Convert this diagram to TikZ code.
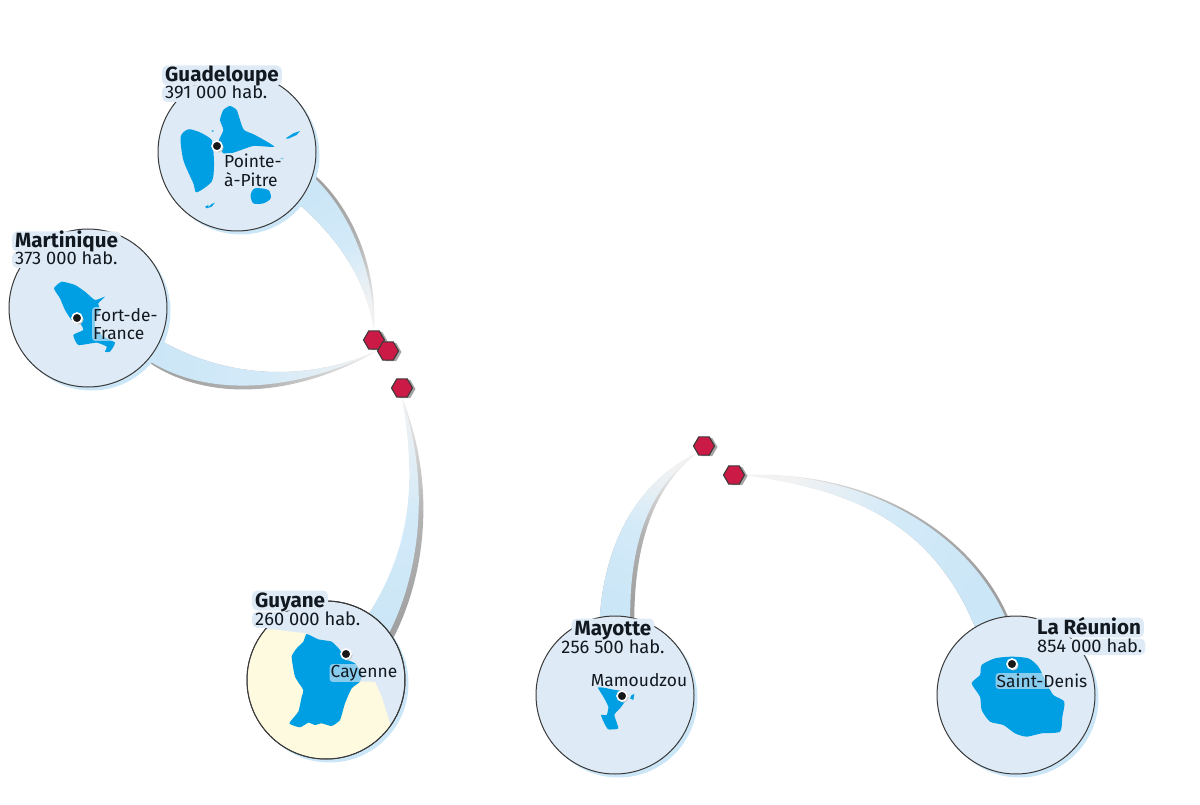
\documentclass[tikz,border=0pt]{standalone}
\usepackage{fontspec}
\setmainfont{Fira Sans}
\usepackage{tikz}
\usetikzlibrary{positioning,shapes.geometric,shadows,backgrounds}
\definecolor{IslandBlue}{HTML}{009FE3}
\definecolor{SeaBlue}{HTML}{DEEAF5}
\definecolor{GlowBlue}{HTML}{CBE6F7}
\definecolor{LandCream}{HTML}{FEFADF}
\definecolor{PinRed}{HTML}{CB1A45}
\definecolor{InkDark}{HTML}{111820}
\definecolor{RingGrey}{HTML}{3A3A3A}
\tikzset{
  insetdisc/.style={circle, minimum size=158pt, inner sep=0pt, fill=SeaBlue, draw=RingGrey,
                    line width=1pt,
                    copy shadow={shadow xshift=3.5pt, shadow yshift=-3.5pt, draw=none, fill=GlowBlue}},
  pin/.style={regular polygon, regular polygon sides=6, minimum size=21pt, inner sep=0pt,
              fill=PinRed, draw=RingGrey, line width=1.1pt,
              copy shadow={shadow xshift=3pt, shadow yshift=-1pt, draw=none, fill=gray!70}},
  town/.style={circle, minimum size=10pt, inner sep=0pt, fill=black!90, draw=white, line width=1.6pt,
               copy shadow={shadow xshift=1.5pt, shadow yshift=-1.5pt, draw=none, fill=gray!45}},
  nametext/.style={inner xsep=3pt, inner ysep=0pt, text height=16.5pt, text depth=3.5pt, text=InkDark,
                   fill=SeaBlue, rounded corners=5pt,
                   font=\fontsize{20.6}{22}\selectfont\bfseries},
  poptext/.style={inner xsep=3pt, inner ysep=0pt, text height=13.5pt, text depth=3pt, text=InkDark,
                  fill=SeaBlue, rounded corners=5pt,
                  font=\fontsize{18.3}{20}\selectfont},
  towntext/.style={inner xsep=1pt, inner ysep=1pt, align=left, text=InkDark, rounded corners=3pt,
                   fill=SeaBlue, fill opacity=0.62, text opacity=1,
                   font=\fontsize{17.4}{18.5}\selectfont},
  island/.style={fill=IslandBlue},
  blueflow/.style={left color=black!5, right color=GlowBlue, middle color=GlowBlue!85},
  greyflow/.style={left color=black!8, right color=gray!75, middle color=gray!60},
}
\begin{document}
\begin{tikzpicture}[x=1pt, y=-1pt]
\useasboundingbox (0,0) rectangle (1200,805);
% discs
\node[insetdisc] (gua) at (237,152) {};
\node[insetdisc] (mar) at (88,308) {};
\node[insetdisc] (guy) at (326,680) {};
\node[insetdisc] (may) at (615,695) {};
\node[insetdisc] (reu) at (1016,695) {};
% pins
\node[pin] (pinGua) at (374,340) {};
\node[pin] (pinMar) at (388,351) {};
\node[pin] (pinGuy) at (402,388) {};
\node[pin] (pinMay) at (704,446) {};
\node[pin] (pinReu) at (734,475) {};
% flows
\begin{scope}[on background layer]
\shade[greyflow, shading angle=-150]
  (gua.-16) .. controls (350,205) and (378,265) .. (pinGua.north)
  .. controls (366,280) and (340,240) .. (gua.-40) -- cycle;
\shade[blueflow, shading angle=-150]
  (gua.-18) .. controls (345,205) and (374,265) .. (pinGua.north)
  .. controls (366,280) and (340,240) .. (gua.-40) -- cycle;
\shade[greyflow, shading angle=-90]
  (mar.-24) .. controls (220,375) and (300,385) .. (pinMar.west)
  .. controls (300,395) and (210,405) .. (mar.-42.5) -- cycle;
\shade[blueflow, shading angle=-90]
  (mar.-24) .. controls (220,375) and (300,385) .. (pinMar.west)
  .. controls (300,390) and (210,400) .. (mar.-41) -- cycle;
\shade[greyflow, shading angle=0]
  (guy.32) .. controls (428,570) and (435,480) .. (pinGuy.south)
  .. controls (420,490) and (410,550) .. (guy.57) -- cycle;
\shade[blueflow, shading angle=0]
  (guy.37) .. controls (421,570) and (430,480) .. (pinGuy.south)
  .. controls (418,490) and (408,550) .. (guy.57) -- cycle;
\shade[greyflow, shading angle=-25]
  (may.76) .. controls (635,550) and (650,490) .. (pinMay.south west)
  .. controls (640,480) and (605,540) .. (may.101) -- cycle;
\shade[blueflow, shading angle=-25]
  (may.79) .. controls (630,550) and (645,490) .. (pinMay.south west)
  .. controls (640,480) and (605,540) .. (may.101) -- cycle;
\shade[greyflow, shading angle=60]
  (reu.96) .. controls (975,540) and (880,470) .. (pinReu.east)
  .. controls (850,490) and (930,520) .. (reu.121) -- cycle;
\shade[blueflow, shading angle=60]
  (reu.98) .. controls (972,542) and (880,472) .. (pinReu.east)
  .. controls (850,490) and (930,520) .. (reu.121) -- cycle;
\end{scope}
% Guyane land
\begin{scope}
\clip (guy.center) circle (78.5pt);
\begin{scope}[shift={(240,580)}, scale=1/3]
\fill[LandCream] (0,150) -- (100,148) -- (195,160) -- (340,300) -- (405,305) -- (425,350)
  -- (450,430) -- (470,560) -- (0,560) -- cycle;
\end{scope}
\end{scope}
\draw[RingGrey, line width=1pt] (guy.center) circle (79pt);
% islands
\begin{scope}[shift={(140,50)}, scale=1/3]
\fill[island] plot[smooth cycle, tension=0.45] coordinates {(122,260) (145,238) (175,245) (195,255) (215,270) (220,300)
  (222,350) (215,395) (170,427) (160,400) (130,330)};
\fill[island] plot[smooth cycle, tension=0.35] coordinates {(237,270) (250,240) (240,210) (250,180) (270,168) (290,180)
  (300,210) (312,240) (345,255) (403,290) (340,288) (280,308)
  (250,310) (240,290)};
\fill[island] (437,265) -- (460,250) -- (480,243) -- (470,255) -- (445,266) -- cycle;
\fill[island] plot[smooth cycle, tension=0.5] coordinates {(332,435) (345,415) (385,420) (392,445) (370,460) (340,460)};
\fill[island] (195,470) -- (205,465) -- (205,472) -- (215,462) -- (225,458) -- (215,470) -- (200,475) -- cycle;
\fill[island] (214,243) -- (220,240) -- (220,246) -- cycle;
\fill[island] (420,325) -- (430,323) -- (428,328) -- cycle;
\end{scope}
\begin{scope}[shift={(0,220)}, scale=1/3]
\fill[island] plot[smooth cycle, tension=0.3] coordinates {(162,205) (185,185) (225,195) (255,215) (285,240) (315,230)
  (295,250) (300,270) (290,285) (285,300) (285,320) (295,335) (310,350)
  (345,368) (330,395) (315,395) (320,380) (290,368) (235,375) (220,345)
  (250,330) (240,310) (215,300) (195,270) (180,235)};
\end{scope}
\begin{scope}[shift={(240,580)}, scale=1/3]
\fill[island] plot[smooth cycle, tension=0.3] coordinates {(200,162) (235,178) (275,185) (300,210) (312,235) (345,250)
  (365,280) (360,305) (335,325) (315,370) (300,420) (275,438) (245,430)
  (225,435) (205,428) (180,442) (148,430) (175,395) (185,350) (190,330)
  (165,290) (155,230) (170,205) (190,185)};
\end{scope}
\begin{scope}[shift={(525,600)}, scale=1/3]
\fill[island] plot[smooth cycle, tension=0.3] coordinates {(218,260) (260,268) (295,275) (302,300) (285,325) (268,345)
  (280,385) (250,388) (238,370) (228,345) (245,345) (250,320) (235,290)};
\fill[island] (320,285) -- (328,282) -- (325,300) -- (315,295) -- cycle;
\end{scope}
\begin{scope}[shift={(925,600)}, scale=1/3]
\fill[island] plot[smooth cycle, tension=0.4] coordinates {(140,250) (165,225) (170,195) (210,175) (260,170) (310,175)
  (340,200) (365,250) (385,285) (418,305) (412,350) (405,395) (350,400) (305,410)
  (270,400) (235,375) (195,365) (170,330) (165,290)};
\end{scope}
% towns
\node[town] (twnGua) at (217,146) {};
\node[town] (twnMar) at (77,318) {};
\node[town] (twnGuy) at (346,654) {};
\node[town] (twnMay) at (622,696) {};
\node[town] (twnReu) at (1012,664) {};
\node[towntext, anchor=north west] (lblGua) at (223,153) {Pointe-\\à-Pitre};
\node[towntext, anchor=north west] (lblMar) at (92,307) {Fort-de-\\France};
\node[towntext] (lblGuy) at (364,673) {Cayenne};
\node[towntext] (lblMay) at (639,680) {Mamoudzou};
\node[towntext] (lblReu) at (1042,681) {Saint-Denis};
% names
\node[poptext, anchor=base west] (popGua) at (162,99) {391 000 hab.};
\node[nametext, anchor=base west] (nameGua) at ([yshift=17pt]popGua.base west) {Guadeloupe};
\node[poptext, anchor=base west] (popMar) at (12,265) {373 000 hab.};
\node[nametext, anchor=base west] (nameMar) at ([yshift=17pt]popMar.base west) {Martinique};
\node[poptext, anchor=base west] (popGuy) at (252,625) {260 000 hab.};
\node[nametext, anchor=base west] (nameGuy) at ([yshift=18pt]popGuy.base west) {Guyane};
\node[poptext, anchor=base] (popMay) at (613,653) {256 500 hab.};
\node[nametext, anchor=base] (nameMay) at ([yshift=18pt]popMay.base) {Mayotte};
\node[poptext, anchor=base west] (popReu) at (1034,652) {854 000 hab.};
\node[nametext, anchor=base west] (nameReu) at ([yshift=18pt]popReu.base west) {La Réunion};
\end{tikzpicture}
\end{document}
